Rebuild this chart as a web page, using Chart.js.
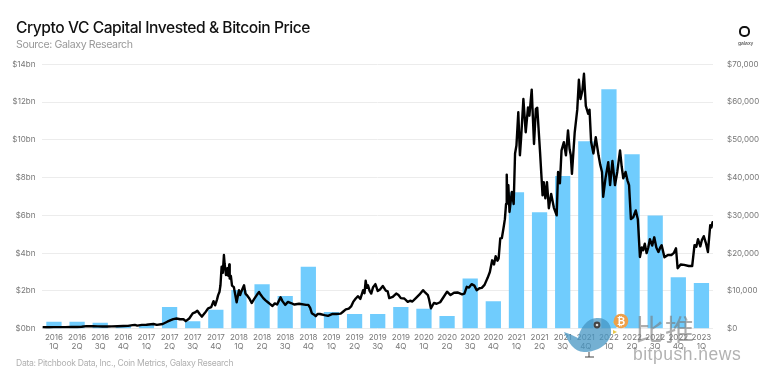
<!DOCTYPE html>
<html><head><meta charset="utf-8">
<script src="https://cdn.jsdelivr.net/npm/chart.js@4"></script>
<style>
html,body{margin:0;padding:0;background:#fff;width:761px;height:381px;overflow:hidden}
#c{position:absolute;left:0;top:0}
.t{position:absolute;white-space:nowrap;font-family:Inter,sans-serif}
#title{left:16px;top:18px;font-size:15.6px;font-weight:500;color:#111;letter-spacing:-.45px}
#sub{left:16px;top:38px;font-size:10.6px;color:#999;letter-spacing:-.38px}
#src{left:16px;top:358px;font-size:8.6px;color:#b0b0b0;letter-spacing:-.3px}
#ring{position:absolute;left:738.5px;top:25.5px;width:7.5px;height:7.5px;border:2.5px solid #111;border-radius:5px}
#gal{left:738px;top:40px;font-size:5px;color:#333}
#wm1{left:635px;top:307px;font-size:29px;color:rgba(120,120,120,.6);font-family:"Noto Sans CJK SC";letter-spacing:1px}
#wm2{left:633px;top:344px;font-size:17.5px;color:rgba(130,130,130,.62);font-family:"Liberation Sans";letter-spacing:.5px}
#bird{position:absolute;left:560px;top:312px}
</style></head><body>
<canvas id="c" width="761" height="381"></canvas>
<div class="t" id="title">Crypto VC Capital Invested &amp; Bitcoin Price</div>
<div class="t" id="sub">Source: Galaxy Research</div>
<div class="t" id="src">Data: Pitchbook Data, Inc., Coin Metrics, Galaxy Research</div>
<div id="ring"></div><div class="t" id="gal">galaxy</div>
<svg id="bird" width="70" height="46" viewBox="0 0 70 46">
<path d="M4 20 C10 22 14 24 18 26 C20 16 28 5 38 6 C48 6 52 14 51 22 C49 32 38 40 24 40 C14 40 8 30 4 20Z" fill="rgba(70,150,195,.75)"/>
<circle cx="37" cy="13" r="3.4" fill="#444"/><circle cx="37" cy="13" r="1.3" fill="#ddd"/>
<path d="M53 10 L57 7 L55 13Z M53 18 L57 20 L53 22Z" fill="#e8c84a"/>
<path d="M29 40 V45 M25 45 H34" stroke="#444" stroke-width="1"/>
<circle cx="61" cy="9" r="7.3" fill="#eda04a"/>
<text x="61" y="12.5" font-size="10" font-weight="700" text-anchor="middle" fill="#fff" font-family="Liberation Sans">₿</text>
</svg>
<div class="t" id="wm1">比推</div>
<div class="t" id="wm2">bitpush.news</div>
<script>
const quarters = ["2016 1Q","2016 2Q","2016 3Q","2016 4Q","2017 1Q","2017 2Q","2017 3Q","2017 4Q","2018 1Q","2018 2Q","2018 3Q","2018 4Q","2019 1Q","2019 2Q","2019 3Q","2019 4Q","2020 1Q","2020 2Q","2020 3Q","2020 4Q","2021 1Q","2021 2Q","2021 3Q","2021 4Q","2022 1Q","2022 2Q","2022 3Q","2022 4Q","2023 1Q"];
const vcInvested = [0.37,0.37,0.32,0.15,0.2,1.15,0.4,1.0,2.05,2.36,1.73,3.28,0.88,0.78,0.78,1.15,1.06,0.67,2.66,1.46,7.22,6.17,8.08,9.93,12.68,9.24,6.0,2.73,2.42];
// Time in quarters since the start of 2016
const btcTime = [0,.15,.3,.5,.6,.8,1,1.25,1.5,1.7,1.9,2.05,2.2,2.4,2.6,2.8,3,3.25,3.5,3.7,3.9,4,4.1,4.3,4.5,4.8,4.95,5.2,5.4,5.55,5.66,5.8,5.95,6.1,6.2,6.35,6.5,6.6,6.7,6.8,6.9,7.03,7.17,7.3,7.4,7.47,7.55,7.6,7.66,7.7,7.75,7.8,7.85,7.88,7.94,8,8.04,8.08,8.1,8.15,8.2,8.28,8.34,8.4,8.5,8.55,8.6,8.72,8.78,8.84,8.95,9.05,9.16,9.27,9.37,9.45,9.55,9.65,9.75,9.85,9.95,10.05,10.15,10.22,10.3,10.38,10.5,10.62,10.75,10.9,11.1,11.4,11.5,11.58,11.65,11.75,11.82,11.9,12,12.2,12.35,12.55,12.72,12.9,13,13.12,13.25,13.35,13.44,13.55,13.65,13.75,13.87,13.93,13.98,14.03,14.08,14.15,14.22,14.3,14.4,14.5,14.6,14.72,14.85,14.93,15,15.15,15.3,15.4,15.5,15.65,15.8,15.9,16,16.15,16.3,16.46,16.55,16.67,16.72,16.8,16.93,17.05,17.2,17.35,17.5,17.65,17.8,17.95,18.15,18.25,18.35,18.45,18.56,18.68,18.78,18.9,19,19.12,19.25,19.35,19.45,19.53,19.6,19.68,19.73,19.8,19.87,19.95,20,20.05,20.08,20.11,20.15,20.2,20.3,20.38,20.44,20.5,20.58,20.65,20.7,20.8,20.9,21,21.06,21.16,21.26,21.34,21.4,21.52,21.63,21.68,21.75,21.82,21.9,22,22.12,22.24,22.3,22.38,22.45,22.55,22.64,22.73,22.8,22.85,22.9,23.02,23.13,23.2,23.27,23.35,23.42,23.5,23.6,23.66,23.73,23.83,23.93,24.05,24.12,24.2,24.25,24.35,24.47,24.55,24.65,24.76,24.86,24.98,25.05,25.12,25.22,25.3,25.37,25.45,25.55,25.66,25.75,25.84,25.92,25.98,26.05,26.13,26.2,26.27,26.37,26.46,26.55,26.64,26.72,26.78,26.9,27.05,27.2,27.3,27.4,27.47,27.6,27.75,27.95,28.1,28.2,28.28,28.35,28.45,28.52,28.6,28.7,28.78,28.88,28.93,28.98,29];
const btcPrice = [430,390,380,415,420,430,420,450,460,530,680,660,650,610,575,600,610,650,720,740,960,1000,820,1000,1050,1250,1000,1250,1850,2250,2550,2700,2500,2500,2000,2700,4050,4300,4750,3900,3200,4200,5400,5700,7300,6200,7700,8900,9800,11500,16400,14800,19500,17200,14200,16000,14000,17000,13300,14000,11400,11000,9000,7000,10200,8900,9800,11500,9300,8900,8000,6800,7900,8900,9700,8900,8100,7500,7000,6500,6000,6700,6400,7300,8300,7300,6300,7100,6800,6400,6600,6300,6300,5500,4100,3700,3300,3900,3900,3600,3400,3900,3900,4000,4500,5100,5300,5900,7100,8000,8600,7900,10200,9400,12700,10800,11500,10000,9300,11000,11800,10000,10400,11300,10100,9900,8100,8400,9300,8900,8100,8000,7100,7400,7200,8100,9000,10200,9600,8900,7800,5400,6800,6600,7000,8400,9800,8900,9500,9600,9100,9300,11100,10900,11800,11400,10200,10700,10800,11600,13400,15000,18100,17000,19200,18000,18600,23900,24000,27000,29000,33000,40800,33500,38000,30900,36200,33000,46400,48500,57300,45900,50300,60800,52000,58600,56400,63300,48900,58200,58500,46800,35300,38800,34500,38800,31900,35700,32000,30000,41500,38500,47200,49400,45900,52500,47500,45900,41000,52000,58000,65900,60800,63000,67500,59000,56900,58000,49400,46400,50700,45900,43500,41500,34900,39800,44100,38000,44400,38000,41500,47200,43000,39800,41500,39300,38000,29000,29500,31300,29000,19000,21500,20800,22500,20000,21500,23700,22000,24200,21500,20300,21500,22100,18900,19500,19500,20000,21300,16000,17000,16900,16600,16600,22100,21700,23700,21800,23500,24500,22500,20300,27400,26800,28200,28200];
const leftTicks = [0,2,4,6,8,10,12,14];
const rightMax = 70000;

const axisFont = {family:'Inter, sans-serif', size:8, lineHeight:1.16};
new Chart(document.getElementById('c'), {
  data:{
    labels: quarters.map(q => q.split(' ')),
    datasets:[
      {type:'line', order:0, label:'Bitcoin Price', yAxisID:'yR', xAxisID:'xT',
       data: btcTime.map((t,i)=>({x:t,y:btcPrice[i]})),
       borderColor:'#000', borderWidth:2.4, pointRadius:0, tension:0, borderJoinStyle:'round'},
      {type:'bar', order:1, label:'Capital Invested', yAxisID:'yL', xAxisID:'x',
       data: vcInvested, backgroundColor:'#70CCFD', grouped:false,
       categoryPercentage:1, barPercentage:.66}
    ]
  },
  options:{
    responsive:false, animation:false,
    layout:{padding:{top:64.3,left:0,right:0,bottom:0}},
    plugins:{legend:{display:false},tooltip:{enabled:false}},
    scales:{
      x:{type:'category', offset:true, position:'bottom',
         afterFit:s=>{s.height=52.3},
         grid:{display:false,drawTicks:false,tickLength:0}, border:{display:false},
         ticks:{font:axisFont,color:'#777',maxRotation:0,autoSkip:false,padding:4}},
      xT:{type:'linear', display:false, min:0, max:quarters.length},
      yL:{position:'left', min:0, max:leftTicks[leftTicks.length-1],
         afterFit:s=>{s.width=42.4},
         afterBuildTicks:s=>{s.ticks=leftTicks.map(v=>({value:v}))},
         grid:{color:'#ececec',lineWidth:1,drawTicks:false}, border:{display:false},
         ticks:{font:axisFont,color:'#777',padding:7,callback:v=>'$'+v+'bn'}},
      yR:{position:'right', min:0, max:rightMax,
         afterFit:s=>{s.width=48},
         grid:{display:false}, border:{display:false},
         ticks:{font:axisFont,color:'#777',padding:6,stepSize:10000,
                callback:v=>'$'+v.toLocaleString('en-US')}}
    }
  }
});
</script></body></html>
